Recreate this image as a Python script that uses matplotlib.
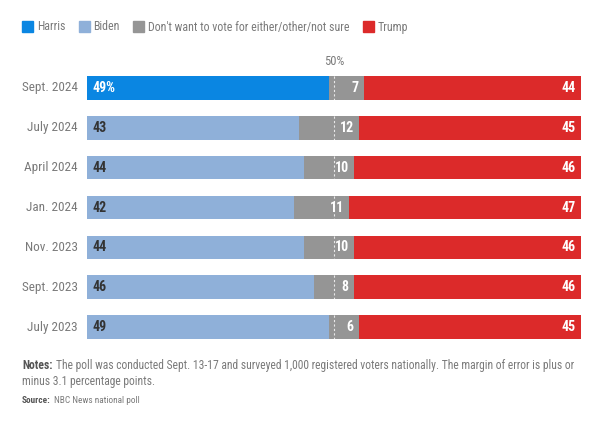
import matplotlib
matplotlib.use('Agg')
import matplotlib.pyplot as plt
from matplotlib.patches import Patch

plt.rcParams['font.family'] = ['Roboto Condensed', 'Liberation Sans Narrow', 'DejaVu Sans Condensed', 'DejaVu Sans']

labels = ['Sept. 2024', 'July 2024', 'April 2024', 'Jan. 2024', 'Nov. 2023', 'Sept. 2023', 'July 2023']
dem = [49, 43, 44, 42, 44, 46, 49]        # Harris for first row, Biden for the rest
unsure = [7, 12, 10, 11, 10, 8, 6]
trump = [44, 45, 46, 47, 46, 46, 45]

HARRIS = '#0a86e2'
BIDEN = '#8fb0d9'
GRAY = '#959595'
RED = '#dc2a2a'
LABEL_GRAY = '#7a7a7a'

W, H = 604, 423
fig = plt.figure(figsize=(W / 100, H / 100), dpi=100)
ax = fig.add_axes([87 / W, 1 - 347 / H, 494 / W, 279 / H])

y = list(range(len(labels)))
dem_colors = [HARRIS] + [BIDEN] * (len(labels) - 1)
left_gray = [d for d in dem]
left_red = [d + u for d, u in zip(dem, unsure)]

ax.barh(y, dem, height=0.59, color=dem_colors)
ax.barh(y, unsure, left=left_gray, height=0.59, color=GRAY)
ax.barh(y, trump, left=left_red, height=0.59, color=RED)

# dashed 50% marker inside each bar
for i in y:
    ax.plot([50, 50], [i - 0.295, i + 0.295], color='white', lw=0.8, ls=(0, (2, 2)), alpha=0.8)

for i in y:
    dtxt = f'{dem[i]}%' if i == 0 else f'{dem[i]}'
    ax.text(1.2, i, dtxt, va='center', ha='left', fontsize=10, fontweight='bold',
            color='white' if i == 0 else '#333333')
    ax.text(left_red[i] - 1.0, i, f'{unsure[i]}', va='center', ha='right', fontsize=10,
            fontweight='bold', color='white')
    ax.text(99.0, i, f'{trump[i]}', va='center', ha='right', fontsize=10,
            fontweight='bold', color='white')
    ax.text(-1.8, i, labels[i], va='center', ha='right', fontsize=9.5, color=LABEL_GRAY)

ax.text(50, -0.5, '50%', ha='center', va='bottom', fontsize=9, color=LABEL_GRAY)

ax.set_xlim(0, 100)
ax.set_ylim(len(labels) - 0.5, -0.5)
ax.axis('off')

handles = [Patch(color=HARRIS, label='Harris'), Patch(color=BIDEN, label='Biden'),
           Patch(color=GRAY, label="Don't want to vote for either/other/not sure"),
           Patch(color=RED, label='Trump')]
leg = fig.legend(handles=handles, loc='center left', bbox_to_anchor=(22 / W, 1 - 27 / H),
                 ncol=4, frameon=False, fontsize=8.6, handlelength=0.95, handleheight=0.95,
                 handletextpad=0.3, columnspacing=1.1, borderaxespad=0, borderpad=0)
for t in leg.get_texts():
    t.set_color(LABEL_GRAY)

# notes and source: bold lead-in followed by regular text
fig.canvas.draw()
renderer = fig.canvas.get_renderer()


def lead_text(x_px, y_px, head, body, size):
    t = fig.text(x_px / W, 1 - y_px / H, head, fontsize=size, fontweight='bold',
                 color='#555555', va='center')
    bb = t.get_window_extent(renderer)
    fig.text((bb.x1 + 3) / W, 1 - y_px / H, body, fontsize=size, color=LABEL_GRAY, va='center')


lead_text(22, 365, 'Notes:',
          'The poll was conducted Sept. 13-17 and surveyed 1,000 registered voters nationally. The margin of error is plus or',
          8.4)
fig.text(22 / W, 1 - 381 / H, 'minus 3.1 percentage points.', fontsize=8.4, color=LABEL_GRAY, va='center')
lead_text(22, 400, 'Source:', 'NBC News national poll', 6.7)

fig.savefig('out.png', dpi=100)
